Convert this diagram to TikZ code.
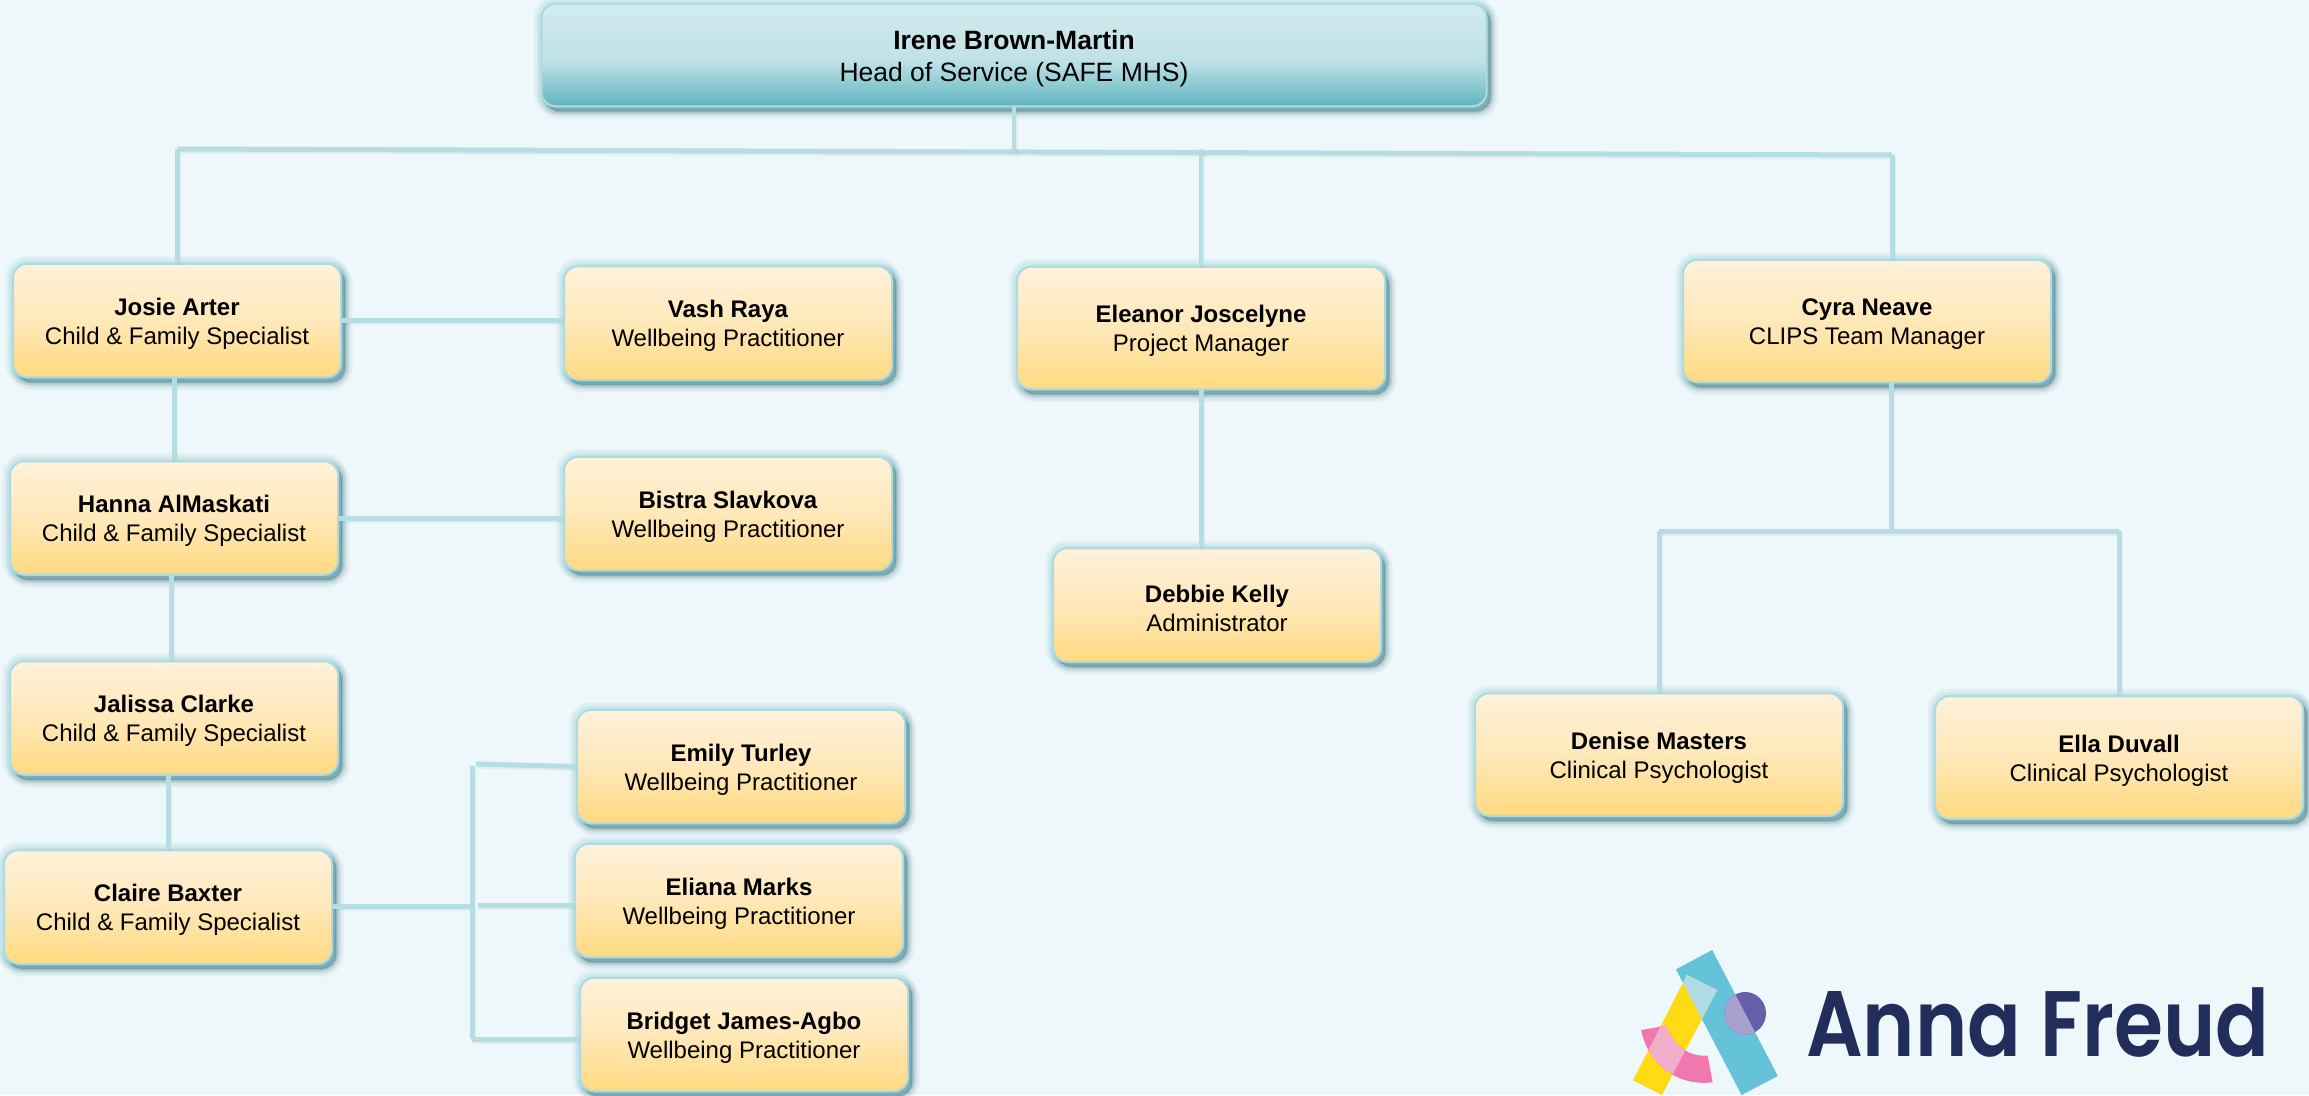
\documentclass[tikz,border=0pt]{standalone}
\usepackage{fontspec}
\setmainfont{Liberation Sans}
\newfontfamily\logofont{Poppins SemiBold}
\usetikzlibrary{calc}
\definecolor{bgc}{HTML}{EEF7F9}
\definecolor{linec}{HTML}{B5DDE3}
\definecolor{glowc}{HTML}{BBE3E8}
\definecolor{shadc}{HTML}{4F8590}
\definecolor{borderc}{HTML}{AEDAE2}
\definecolor{yt}{HTML}{FFF2DA}
\definecolor{ym}{HTML}{FFE8B9}
\definecolor{yb}{HTML}{FFDA80}
\definecolor{ht}{HTML}{D3EBEE}
\definecolor{hm}{HTML}{BFE1E6}
\definecolor{hb}{HTML}{5FB5C0}
\definecolor{lteal}{HTML}{64C3D8}
\definecolor{lblue}{HTML}{B0DCE8}
\definecolor{lyel}{HTML}{FFDB14}
\definecolor{lpink}{HTML}{F177AE}
\definecolor{lpinkl}{HTML}{F1AECB}
\definecolor{lpur}{HTML}{645FA8}
\definecolor{lpurl}{HTML}{A9A0D0}
\definecolor{lnavy}{HTML}{232D5C}
\pgfdeclareverticalshading{yelshade}{100bp}{color(0bp)=(yb);color(25bp)=(yb);color(50bp)=(ym);color(75bp)=(yt);color(100bp)=(yt)}
\pgfdeclareverticalshading{headshade}{100bp}{color(0bp)=(hb);color(25bp)=(hb);color(47bp)=(hm);color(75bp)=(ht);color(100bp)=(ht)}
\newcommand{\downsmall}{\rule{0pt}{23.5pt}}
\newcommand{\downbig}{\rule{0pt}{25.5pt}}
\tikzset{
  halo/.style={
    preaction={draw=glowc,opacity=.3,line width=15pt},
    preaction={draw=glowc,opacity=.45,line width=9pt},
    preaction={draw=shadc,fill=shadc,opacity=.07,line width=15pt,transform canvas={shift={(4pt,-5pt)}}},
    preaction={draw=shadc,fill=shadc,opacity=.1,line width=10pt,transform canvas={shift={(4pt,-5pt)}}},
    preaction={draw=shadc,fill=shadc,opacity=.15,line width=6pt,transform canvas={shift={(4pt,-5pt)}}},
    preaction={draw=shadc,fill=shadc,opacity=.25,line width=2pt,transform canvas={shift={(4pt,-5pt)}}}},
  staff/.style={halo,rectangle,rounded corners=14pt,draw=borderc,line width=2pt,
    shading=yelshade,inner sep=0pt,align=center,xshift=-1pt,
    font=\fontsize{24}{29}\selectfont,text=black,minimum width=328pt,minimum height=113.5pt},
  wide/.style={staff,minimum width=368pt,minimum height=122.5pt},
  headbox/.style={staff,shading=headshade,minimum width=945pt,minimum height=102.5pt,
    font=\fontsize{26.5}{32}\selectfont},
  conn/.style={draw=linec,line width=5pt,
    preaction={draw=shadc,opacity=.08,line width=5pt,transform canvas={shift={(1pt,-2pt)}}}}
}
\begin{document}
\begin{tikzpicture}[x=1pt,y=-1pt]
\useasboundingbox (0,0) rectangle (2309,1095);
\fill[bgc] (0,0) rectangle (2309,1095);

\node[headbox] (head) at (1015,55) {\downbig\textbf{Irene Brown-Martin}\\Head of Service (SAFE MHS)};
\node[staff] (josie) at (178,320.5) {\downsmall\textbf{Josie Arter}\\Child \& Family Specialist};
\node[staff] (vash) at (729,323) {\downsmall\textbf{Vash Raya}\\Wellbeing Practitioner};
\node[staff] (hanna) at (175,518) {\downsmall\textbf{Hanna AlMaskati}\\Child \& Family Specialist};
\node[staff] (bistra) at (729,513.5) {\downsmall\textbf{Bistra Slavkova}\\Wellbeing Practitioner};
\node[staff] (jalissa) at (175,718) {\downsmall\textbf{Jalissa Clarke}\\Child \& Family Specialist};
\node[staff] (claire) at (169,907) {\downsmall\textbf{Claire Baxter}\\Child \& Family Specialist};
\node[staff] (emily) at (742,766.5) {\downsmall\textbf{Emily Turley}\\Wellbeing Practitioner};
\node[staff] (eliana) at (740,900.5) {\downsmall\textbf{Eliana Marks}\\Wellbeing Practitioner};
\node[staff] (bridget) at (745,1034.5) {\downsmall\textbf{Bridget James-Agbo}\\Wellbeing Practitioner};
\node[wide] (eleanor) at (1202,328) {\downsmall\textbf{Eleanor Joscelyne}\\Project Manager};
\node[staff] (debbie) at (1218,605) {\downsmall\textbf{Debbie Kelly}\\Administrator};
\node[wide] (cyra) at (1868,321) {\downsmall\textbf{Cyra Neave}\\CLIPS Team Manager};
\node[wide] (denise) at (1660,754.5) {\downsmall\textbf{Denise Masters}\\Clinical Psychologist};
\node[wide] (ella) at (2120,757.5) {\downsmall\textbf{Ella Duvall}\\Clinical Psychologist};

\coordinate (busL) at (177,149);
\coordinate (busH) at (1014,153);
\coordinate (busE) at (1201,149);
\coordinate (busR) at (1892,155);
\coordinate (split) at (1891,531);
\coordinate (brM) at (470,906);
\coordinate (brT) at (472,766);
\coordinate (brB) at (472,1039);
\coordinate (brE) at (476,764);
\coordinate (brI) at (478,905);

\draw[conn] (busL) -- (busR);
\draw[conn,line width=4pt] (head.south -| busH) -- (busH);
\draw[conn] (josie.north -| busL) -- (busL);
\draw[conn,line width=4pt] (eleanor.north -| busE) -- (busE);
\draw[conn] (cyra.north -| busR) -- (busR);
\draw[conn] (josie.east) -- (josie.east -| vash.west);
\draw[conn] (hanna.east) -- (hanna.east -| bistra.west);
\draw[conn] (hanna.north |- josie.south) -- (hanna.north);
\draw[conn] ([xshift=-3pt]hanna.south) -- ([xshift=-3pt]jalissa.north);
\draw[conn] (jalissa.south -| claire.north) -- (claire.north);
\draw[conn] (eleanor.south -| busE) -- (debbie.north -| busE);
\draw[conn] (cyra.south -| split) -- (split);
\draw[conn] (denise.north |- split) -- (ella.north |- split);
\draw[conn] (denise.north |- split) -- (denise.north);
\draw[conn] (ella.north |- split) -- (ella.north);
\draw[conn] (claire.east |- brM) -- (brM);
\draw[conn] (brT) -- (brB);
\draw[conn] (brE) -- (emily.west);
\draw[conn] (brI) -- (brI -| eliana.west);
\draw[conn] (brB) -- (brB -| bridget.west);

% logo
\begin{scope}[shift={(1600pt,-920pt)},x=0.4523pt,y=-0.3333pt]
  \def\tealband{(168,148) -- (248,90) -- (393,468) -- (313,525) -- cycle}
  \def\yelband{(192,165) -- (259,210) -- (137,525) -- (73,481) -- cycle}
  \def\pinkarc{(91,330) -- (147,317) .. controls (158,365) and (190,412) .. (238,407) -- (249,487) .. controls (170,500) and (105,430) .. (91,330) -- cycle}
  \fill[lteal] \tealband;
  \fill[lyel] \yelband;
  \begin{scope}
    \clip \tealband;
    \fill[lblue] \yelband;
  \end{scope}
  \fill[lpink] \pinkarc;
  \begin{scope}
    \clip \yelband;
    \fill[lpinkl] \pinkarc;
  \end{scope}
  \fill[lpur] (321,280) ellipse (46 and 64);
  \begin{scope}
    \clip \tealband;
    \fill[lpurl] (321,280) ellipse (46 and 64);
  \end{scope}
\end{scope}
\node[inner sep=0pt,anchor=base west,text=lnavy,font=\logofont\fontsize{93}{93}\selectfont,xscale=.852,transform shape] (logotext) at (1806,1056) {Anna Freud};
\end{tikzpicture}
\end{document}
